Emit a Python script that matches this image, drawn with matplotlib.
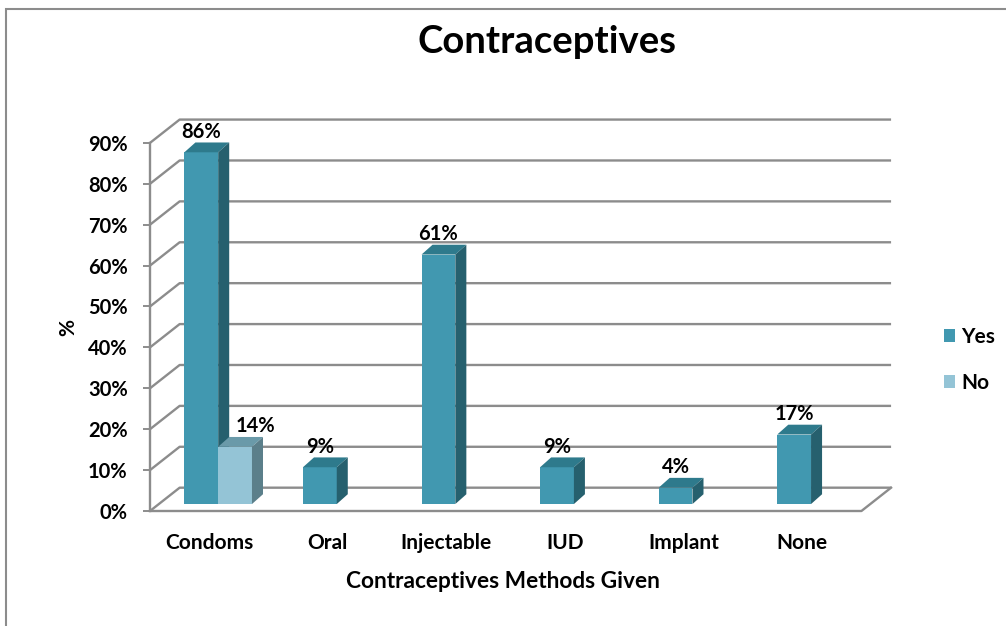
import matplotlib.pyplot as plt
from matplotlib.patches import Polygon, Rectangle, Patch

# survey results (% of respondents)
categories = ['Condoms', 'Oral', 'Injectable', 'IUD', 'Implant', 'None']
yes_pct = [86, 9, 61, 9, 4, 17]
no_pct = [14, None, None, None, None, None]
y_ticks = [0, 10, 20, 30, 40, 50, 60, 70, 80, 90]

yes_colors = ('#4198b0', '#2e7a8c', '#26606e')   # front, top, side
no_colors = ('#94c4d6', '#6a9aa9', '#5b7f8a')
grid_color = '#8c8c8c'

plt.rcParams['font.family'] = ['Lato', 'DejaVu Sans']
plt.rcParams['font.weight'] = 'bold'

# oblique "3D" offsets in data units
DX, DY = 0.25, 5.7          # depth of the walls / floor
BX0, BY0 = 0.075, 1.7       # where the bar row sits inside the depth
BDX, BDY = 0.093, 2.4       # depth of one bar
BAR_W = 0.285

fig = plt.figure(figsize=(10.06, 6.26), dpi=100)
ax = fig.add_axes([150 / 1006, 115 / 626, 747 / 1006, 394.7 / 626])
ax.set_xlim(-0.5, 5.8)
ax.set_ylim(0, 96.5)

x_left, x_right = -0.5, len(categories) - 0.5
ymax = y_ticks[-1]

# back wall gridlines with their slanted side-wall part
for v in y_ticks:
    ax.plot([x_left, x_left + DX, x_right + DX], [v, v + DY, v + DY],
            color=grid_color, lw=1.7, solid_capstyle='butt', clip_on=False, zorder=1)

# floor front and right edges
ax.plot([x_left, x_right, x_right + DX], [0, 0, DY],
        color=grid_color, lw=1.7, clip_on=False, zorder=1)


def draw_bar(x0, v, colors):
    front, top, side = colors
    y0 = BY0
    y1 = BY0 + v
    ax.add_patch(Polygon([(x0, y0), (x0 + BAR_W, y0), (x0 + BAR_W, y1), (x0, y1)],
                         closed=True, fc=front, ec='none', zorder=3, clip_on=False))
    ax.add_patch(Polygon([(x0, y1), (x0 + BAR_W, y1), (x0 + BAR_W + BDX, y1 + BDY),
                          (x0 + BDX, y1 + BDY)],
                         closed=True, fc=top, ec='none', zorder=3, clip_on=False))
    ax.add_patch(Polygon([(x0 + BAR_W, y0), (x0 + BAR_W + BDX, y0 + BDY),
                          (x0 + BAR_W + BDX, y1 + BDY), (x0 + BAR_W, y1)],
                         closed=True, fc=side, ec='none', zorder=3, clip_on=False))


for i, (y, n) in enumerate(zip(yes_pct, no_pct)):
    if y:
        x0 = i - BAR_W + BX0
        draw_bar(x0, y, yes_colors)
        ax.text(x0 + BAR_W / 2, BY0 + y + 5.0, f'{y}%', ha='center', va='center',
                fontsize=14.5, fontweight='bold', zorder=5)
    if n:
        x0 = i + BX0
        draw_bar(x0, n, no_colors)
        ax.text(x0 + BAR_W / 2 + 0.17, BY0 + n + 5.0, f'{n}%', ha='center', va='center',
                fontsize=14.5, fontweight='bold', zorder=5)

# value axis on the front-left edge
for s in ['top', 'right', 'bottom']:
    ax.spines[s].set_visible(False)
ax.spines['left'].set_bounds(0, ymax)
ax.spines['left'].set_color(grid_color)
ax.spines['left'].set_linewidth(1.7)
ax.set_yticks(y_ticks)
ax.set_yticklabels([f'{v}%' for v in y_ticks])
ax.tick_params(axis='y', colors=grid_color, length=5, width=1.4, pad=11,
               labelcolor='black', labelsize=14.5)
ax.set_xticks(range(len(categories)))
ax.set_xticklabels(categories)
ax.tick_params(axis='x', length=0, pad=16, labelsize=15)
for lab in ax.get_xticklabels() + ax.get_yticklabels():
    lab.set_fontweight('bold')

fig.text(547 / 1006, 1 - 42 / 626, 'Contraceptives', ha='center', va='center',
         fontsize=27.5, fontweight='bold')
fig.text(503 / 1006, 1 - 581 / 626, 'Contraceptives Methods Given', ha='center',
         va='center', fontsize=16.3, fontweight='bold')
fig.text(68 / 1006, 1 - 328 / 626, '%', rotation=90, ha='center', va='center',
         fontsize=15, fontweight='bold')

handles = [Patch(fc=yes_colors[0], ec='none', label='Yes'),
           Patch(fc=no_colors[0], ec='none', label='No')]
fig.legend(handles=handles, loc='center left', bbox_to_anchor=(925 / 1006, 1 - 360 / 626),
           frameon=False, handlelength=0.55, handleheight=0.55, handletextpad=0.3,
           labelspacing=1.25, prop={'size': 15, 'weight': 'bold'})

# chart outer border
fig.add_artist(Rectangle((6 / 1006, -0.1), 1.2, 1.1 - 9 / 626, transform=fig.transFigure,
                         fill=False, ec='#8c8c8c', lw=1.5))

fig.savefig('out.png', dpi=100)
